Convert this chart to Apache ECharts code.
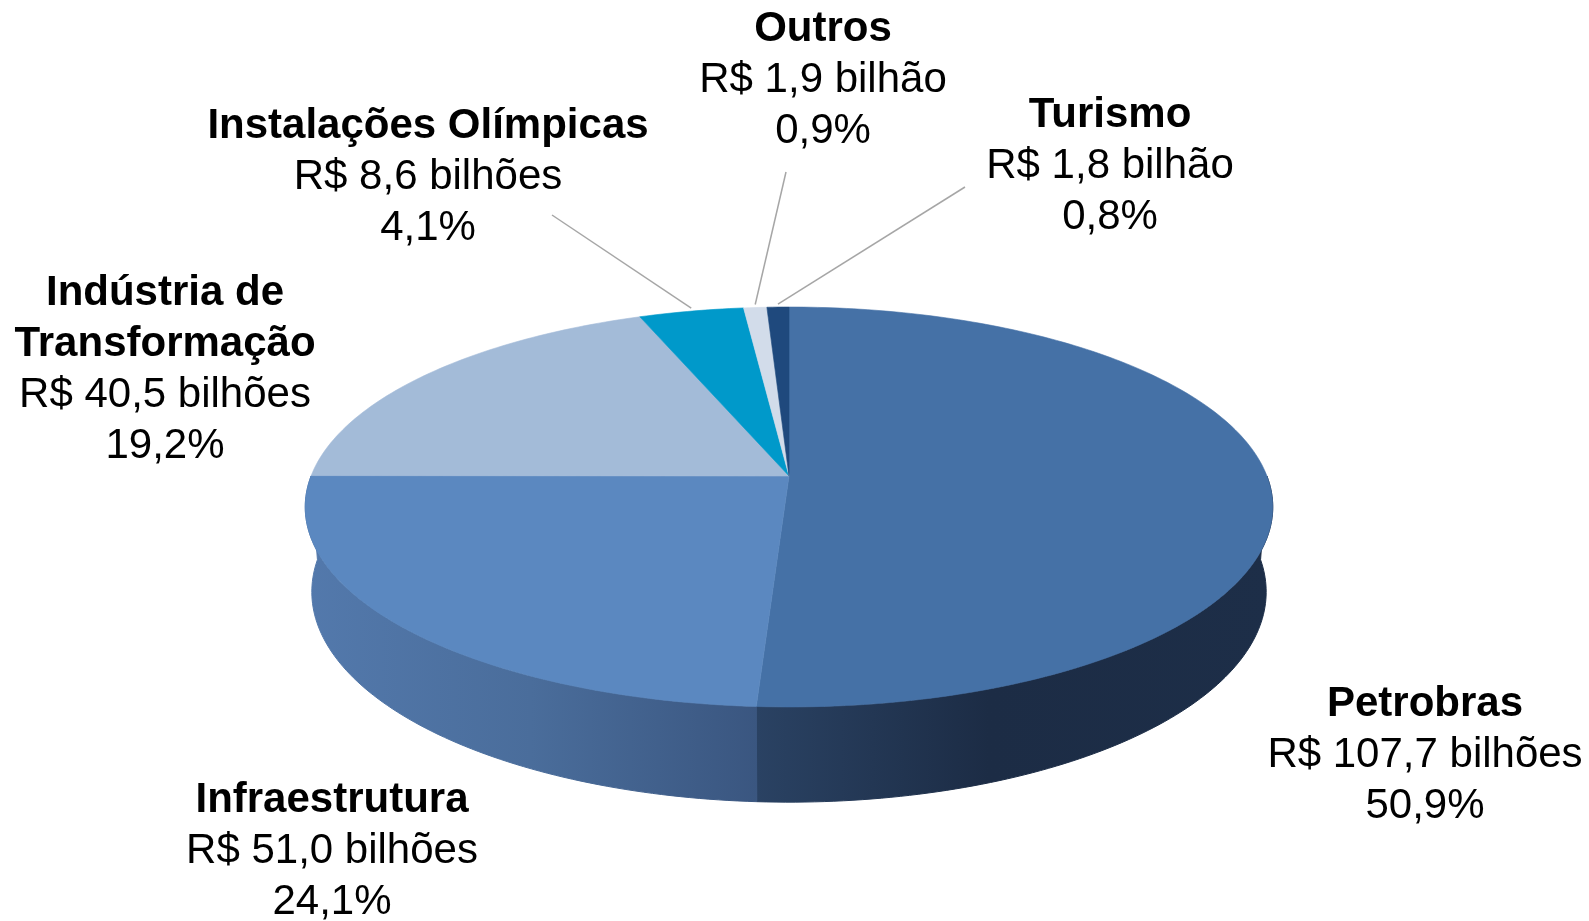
<!DOCTYPE html>
<html>
<head>
<meta charset="utf-8">
<script src="https://cdn.jsdelivr.net/npm/echarts@6/dist/echarts.min.js"></script>
<style>
  html, body { margin: 0; padding: 0; background: #fff; }
  #main { width: 1589px; height: 921px; }
</style>
</head>
<body>
<div id="main"></div>
<script>
// dados
const categories = ['Petrobras', 'Infraestrutura', 'Indústria de\nTransformação', 'Instalações Olímpicas', 'Outros', 'Turismo'];
const values = [107.7, 51.0, 40.5, 8.6, 1.9, 1.8];
const percents = [50.9, 24.1, 19.2, 4.1, 0.9, 0.8];

// cores
const topColors = ['#4571a6', '#5b88c0', '#a3bbd8', '#0099ca', '#d2dcea', '#1f497d'];
const sideStops = [
  [[0, '#2a4263'], [0.45, '#1c2c45'], [1, '#1d2e48']],
  [[0, '#5379ac'], [0.5, '#4a6d9b'], [1, '#3a5680']]
];

// posição dos rótulos e linhas guia (layout)
const labelPos = [[1425, 704], [332, 800], [165, 293], [428, 126], [823, 29], [1110, 115]];
const leaderEnd = [null, null, null, [552, 215], [786, 172], [965, 187]];

// câmera em perspectiva
const CX = 789, CY = 476, F = 2815, D = 5.89, T = 0.1945;
const PHI = 24.1 * Math.PI / 180;
const sinP = Math.sin(PHI), cosP = Math.cos(PHI);

const total = values.reduce((a, b) => a + b, 0);
const starts = [];
let acc = 0;
values.forEach(v => { starts.push(acc / total * 360); acc += v; });

function proj (th, w) {
  const a = th * Math.PI / 180;
  const u = Math.sin(a), v = Math.cos(a);
  const zc = v * cosP - w * sinP + D;
  const yu = v * sinP + w * cosP;
  return [CX + F * u / zc, CY - F * yu / zc];
}
function arc (a0, a1, w) {
  const n = Math.max(2, Math.ceil(a1 - a0));
  const pts = [];
  for (let k = 0; k <= n; k++) pts.push(proj(a0 + (a1 - a0) * k / n, w));
  return pts;
}
function fmtValue (v) {
  return 'R$ ' + v.toFixed(1).replace('.', ',') + (v < 2 ? ' bilhão' : ' bilhões');
}

const FONT = '"Liberation Sans", Arial, sans-serif';
const LINE = 51;

const chart = echarts.init(document.getElementById('main'));
chart.setOption({
  backgroundColor: '#ffffff',
  animation: false,
  series: [{
    type: 'custom',
    coordinateSystem: 'none',
    silent: true,
    data: values.map(v => [v]),
    renderItem (params, api) {
      const i = params.dataIndex;
      const a0 = starts[i];
      const a1 = a0 + api.value(0) / total * 360;
      const children = [];
      // parede lateral (só a frente)
      const w0 = Math.max(a0, 90), w1 = Math.min(a1, 270);
      if (w1 > w0) {
        const pts = arc(w0, w1, 0).concat(arc(w0, w1, -T).reverse());
        const g = new echarts.graphic.LinearGradient(0, 0, 1, 0,
          sideStops[i].map(s => ({ offset: s[0], color: s[1] })));
        children.push({
          type: 'polygon', z2: 1,
          shape: { points: pts },
          style: { fill: g, stroke: g, lineWidth: 1 }
        });
      }
      // topo
      children.push({
        type: 'polygon', z2: 10,
        shape: { points: [[CX, CY]].concat(arc(a0, a1, 0)) },
        style: { fill: topColors[i], stroke: topColors[i], lineWidth: 0.6 }
      });
      // linha guia
      if (leaderEnd[i]) {
        const p = proj((a0 + a1) / 2, 0);
        children.push({
          type: 'line', z2: 20,
          shape: { x1: leaderEnd[i][0], y1: leaderEnd[i][1], x2: p[0], y2: p[1] - 3 },
          style: { stroke: '#a6a6a6', lineWidth: 1.5 }
        });
      }
      // rótulo
      const lines = categories[i].split('\n').map(t => [t, 'bold'])
        .concat([[fmtValue(values[i]), 'normal'], [percents[i].toFixed(1).replace('.', ',') + '%', 'normal']]);
      lines.forEach((ln, k) => {
        children.push({
          type: 'text', z2: 30,
          x: labelPos[i][0], y: labelPos[i][1] + k * LINE,
          style: {
            text: ln[0], fill: '#000000',
            fontSize: 42, fontWeight: ln[1], fontFamily: FONT,
            align: 'center', verticalAlign: 'middle'
          }
        });
      });
      return { type: 'group', children };
    }
  }]
});
</script>
</body>
</html>
